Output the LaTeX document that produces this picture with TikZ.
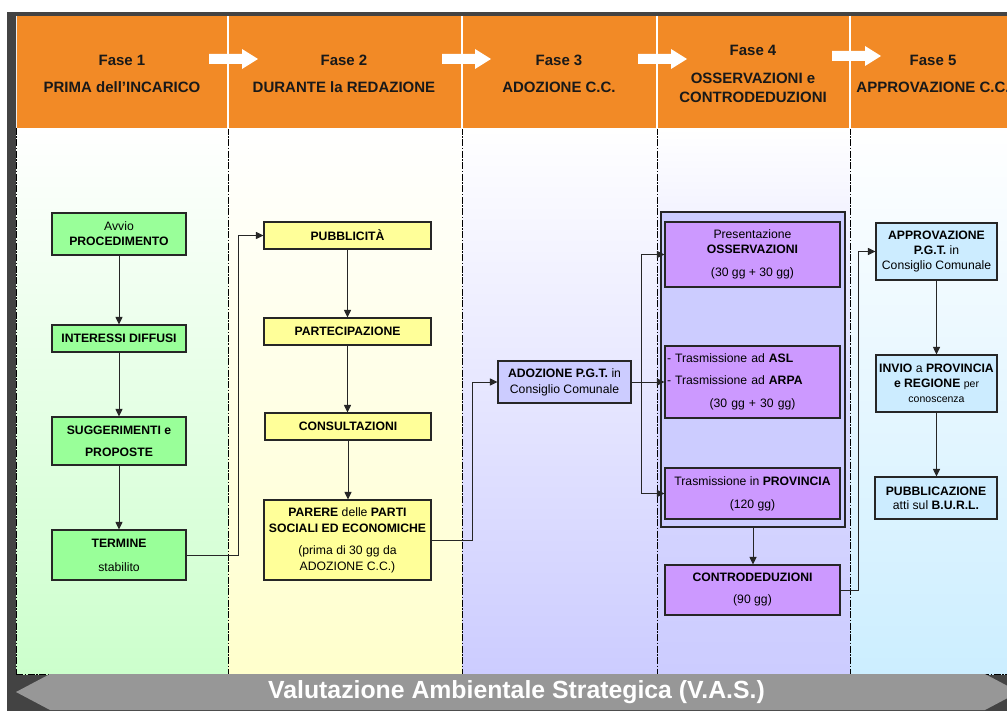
\documentclass[tikz,border=0pt]{standalone}
\usepackage{fontspec}
\setmainfont{Liberation Sans}
\usetikzlibrary{arrows.meta}
\definecolor{darkbg}{HTML}{434343}
\definecolor{hdrorange}{HTML}{F28A26}
\definecolor{cgreen}{HTML}{CCFFCC}
\definecolor{cyellow}{HTML}{FFFFCC}
\definecolor{clav}{HTML}{CCCCFF}
\definecolor{cblue}{HTML}{CCEEFF}
\definecolor{bgreen}{HTML}{99FF99}
\definecolor{byellow}{HTML}{FFFF99}
\definecolor{blav}{HTML}{CCCCFF}
\definecolor{bpurple}{HTML}{CC99FF}
\definecolor{bblue}{HTML}{CCECFF}
\definecolor{vasgray}{HTML}{979797}
\tikzset{
  box/.style={draw=black!85, line width=1.1pt, align=center, inner sep=1pt,
    font=\fontsize{12.2}{15}\selectfont, text=black},
  gbox/.style={box, fill=bgreen, minimum width=134pt},
  ybox/.style={box, fill=byellow, minimum width=167pt},
  lbox/.style={box, fill=blav},
  pbox/.style={box, fill=bpurple, minimum width=175pt},
  cbox/.style={box, fill=bblue, minimum width=121pt},
  arr/.style={draw=black!85, line width=1pt, -{Triangle[length=7.5pt,width=7pt]}},
  sepline/.style={draw=black, line width=0.9pt, dash pattern=on 7pt off 1.5pt on 1.5pt off 1.5pt},
  hdr/.style={font=\fontsize{15}{17}\selectfont\bfseries, text=black!90, anchor=base, inner sep=0pt},
}
\begin{document}
\begin{tikzpicture}[x=1pt,y=-1pt]
\path[use as bounding box] (0,0) rectangle (1007,711);
\clip (0,0) rectangle (1007,711);
% frame
\fill[white] (0,0) rectangle (1007,711);
\fill[darkbg] (7,12) rectangle (1007,711);
% columns
\shade[top color=white, bottom color=cgreen] (16,128) rectangle (228,674);
\shade[top color=white, bottom color=cyellow] (228,128) rectangle (462,674);
\shade[top color=white, bottom color=clav] (462,128) rectangle (657,674);
\shade[top color=white, bottom color=clav, middle color=clav!75!white] (657,128) rectangle (850,674);
\shade[top color=white, bottom color=cblue] (850,128) rectangle (1016,674);
\foreach \xx in {16,228,462,657,850} \draw[sepline] (\xx,128) -- (\xx,674);
\draw[sepline] (16,674) -- (1016,674);
% header
\fill[hdrorange] (17,16) rectangle (1016,128);
\draw[white!85!gray, line width=0.8pt] (16.5,16) -- (16.5,128);
\foreach \xx in {228,462,657,850} \draw[white, line width=1.2pt] (\xx,16) -- (\xx,128);
\draw[white, line width=0.8pt] (17,128.5) -- (1016,128.5);
% header arrows
\foreach \ax/\ay in {209/59, 442/59, 638/59, 832/56}
  \fill[white] (\ax,\ay-5) -- (\ax+33,\ay-5) -- (\ax+33,\ay-10) -- (\ax+49,\ay) -- (\ax+33,\ay+10) -- (\ax+33,\ay+5) -- (\ax,\ay+5) -- cycle;
% header texts
\node[hdr] (f1a) at (122,66) {Fase 1};
\node[hdr] (f1b) at (122,93) {PRIMA dell’INCARICO};
\node[hdr] (f2a) at (344,66) {Fase 2};
\node[hdr] (f2b) at (344,93) {DURANTE la REDAZIONE};
\node[hdr] (f3a) at (559,66) {Fase 3};
\node[hdr] (f3b) at (559,93) {ADOZIONE C.C.};
\node[hdr] (f4a) at (753,56) {Fase 4};
\node[hdr] (f4b) at (753,84) {OSSERVAZIONI e};
\node[hdr] (f4c) at (753,102.5) {CONTRODEDUZIONI};
\node[hdr] (f5a) at (933,66) {Fase 5};
\node[hdr] (f5b) at (933,93) {APPROVAZIONE C.C.};
% column 1
\node[gbox, minimum height=42pt] (avvio) at (119,234) {Avvio\\\textbf{PROCEDIMENTO}};
\node[gbox, minimum height=27pt] (inter) at (119,338.5) {\textbf{INTERESSI DIFFUSI}};
\node[gbox, minimum height=48pt] (sugg) at (119,441) {\textbf{SUGGERIMENTI e}\\[7pt]\textbf{PROPOSTE}};
\node[gbox, minimum height=50pt] (term) at (119,555) {\textbf{TERMINE}\\[9pt]stabilito};
% column 2
\node[ybox, minimum height=27pt] (pubb) at (347.5,235.5) {\textbf{PUBBLICITÀ}};
\node[ybox, minimum height=27pt] (part) at (347.5,331.5) {\textbf{PARTECIPAZIONE}};
\node[ybox, minimum height=27pt, minimum width=166pt] (cons) at (348,426.5) {\textbf{CONSULTAZIONI}};
\node[ybox, minimum height=80pt] (parere) at (347.5,540) {\textbf{PARERE} delle \textbf{PARTI}\\[1pt]\textbf{SOCIALI ED ECONOMICHE}\\[7pt](prima di 30 gg da\\[1pt]ADOZIONE C.C.)};
% column 3
\node[lbox, minimum width=133pt, minimum height=42pt] (adoz) at (564.5,382) {\textbf{ADOZIONE P.G.T.} in\\[1pt]Consiglio Comunale};
% column 4
\node[lbox, minimum width=184pt, minimum height=315pt] (cont) at (753,369.5) {};
\node[pbox, minimum height=65pt] (oss) at (752.5,254.5) {Presentazione\\\textbf{OSSERVAZIONI}\\[8pt](30 gg + 30 gg)};
\node[pbox, minimum height=72pt, align=left, text width=171pt] (asl) at (752.5,382) {- Trasmissione ad \textbf{ASL}\\[7pt]- Trasmissione ad \textbf{ARPA}\\[8pt]\makebox[171pt]{(30 gg + 30 gg)}};
\node[pbox, minimum height=51pt] (prov) at (752.5,493.5) {Trasmissione in \textbf{PROVINCIA}\\[8pt](120 gg)};
\node[pbox, minimum height=50pt] (contro) at (752.5,590) {\textbf{CONTRODEDUZIONI}\\[7pt](90 gg)};
% column 5
\node[cbox, minimum height=57pt] (appr) at (936.5,251.5) {\textbf{APPROVAZIONE}\\\textbf{P.G.T.} in\\Consiglio Comunale};
\node[cbox, minimum height=57pt] (invio) at (936.5,383.5) {\textbf{INVIO} a \textbf{PROVINCIA}\\\textbf{e REGIONE} {\fontsize{10.5}{13}\selectfont per}\\{\fontsize{10.5}{13}\selectfont conoscenza}};
\node[cbox, minimum height=42pt, minimum width=122pt] (pubbl) at (936,498) {\textbf{PUBBLICAZIONE}\\[-1pt]atti sul \textbf{B.U.R.L.}};
% connectors
\draw[arr] (avvio) -- (inter);
\draw[arr] (inter) -- (sugg);
\draw[arr] (sugg) -- (term);
\draw[arr] (term.east) -- ++(52,0) |- (pubb.west);
\draw[arr] (pubb) -- (part);
\draw[arr] (part) -- (part.south |- cons.north);
\draw[arr] (cons) -- (cons.south |- parere.north);
\draw[arr] (parere.east) -- ++(41,0) |- (adoz.west);
\coordinate (trunk) at (641,382);
\draw[arr] (adoz.east) -- (asl.west);
\draw[arr] (trunk) |- (oss.west);
\draw[arr] (trunk) |- (prov.west);
\draw[arr] (cont.south) -- (cont.south |- contro.north);
\draw[arr] (contro.east) -- ++(18,0) |- (appr.west);
\draw[arr] (appr) -- (invio);
\draw[arr] (invio) -- (invio.south |- pubbl.north);
% VAS band
\fill[vasgray] (16,692) -- (50,674) -- (985,674) -- (1019,692) -- (985,710) -- (50,710) -- cycle;
\node[font=\fontsize{24.8}{28}\selectfont\bfseries, text=white, inner sep=0pt] (vas) at (516.5,692) {Valutazione Ambientale Strategica (V.A.S.)};
\end{tikzpicture}
\end{document}
